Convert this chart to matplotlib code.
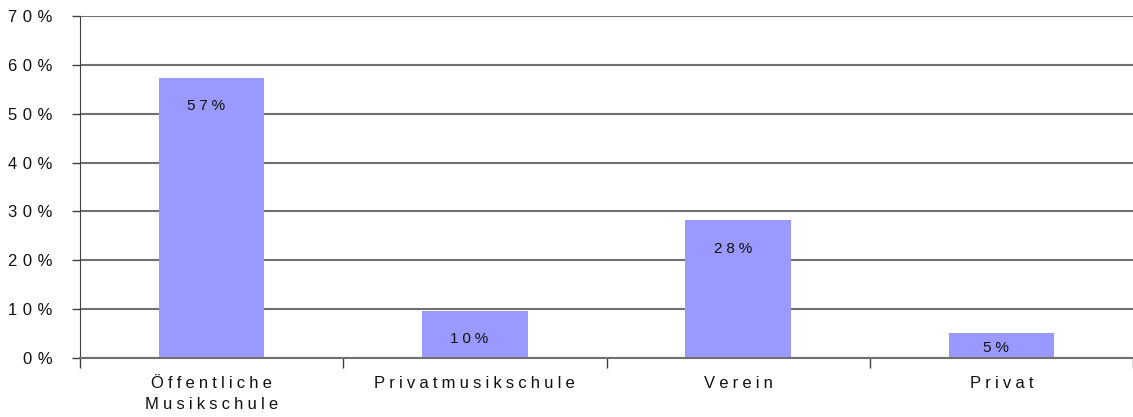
import matplotlib
matplotlib.use("Agg")
import matplotlib.pyplot as plt
import numpy as np

# data
categories = ["Öffentliche\nMusikschule", "Privatmusikschule", "Verein", "Privat"]
values = [57.3, 9.6, 28.2, 5.2]
value_labels = ["57%", "10%", "28%", "5%"]
y_ticks = [0, 10, 20, 30, 40, 50, 60, 70]

BAR_COLOR = "#9999FF"
GRID_COLOR = "#707070"
FS = 12
FS_Y = 12
FS_BAR = 11


def spaced(text: str, sep: str = "\u2005") -> str:
    # mimic the wide letter spacing of the original chart
    return "\n".join(sep.join(line) for line in text.split("\n"))


plt.rcParams["font.family"] = ["Liberation Sans", "DejaVu Sans"]

fig = plt.figure(figsize=(11.33, 4.17), dpi=100)
ax = fig.add_axes([80 / 1133, 1 - 358 / 417, 1 - 80 / 1133, (358 - 16) / 417])

x = np.arange(len(categories))
ax.bar(x, values, width=0.4, color=BAR_COLOR, zorder=3)

for xi, v, lab in zip(x, values, value_labels):
    ax.text(xi - 0.02, max(v - 5.8, v * 0.4), spaced(lab), ha="center", va="center",
            fontsize=FS_BAR, color="#111111", zorder=4)

ax.set_xlim(-0.5, len(categories) - 0.5)
ax.set_ylim(0, 70)

ax.set_yticks(y_ticks)
ax.set_yticklabels([spaced(f"{t}%", "\u2004") for t in y_ticks], fontsize=FS_Y,
                   color="#111111")
ax.yaxis.grid(True, color=GRID_COLOR, linewidth=1.5, zorder=0)
ax.tick_params(axis="y", length=6, width=1, color="#404040", pad=14)

# category names centered under bars, ticks at the category boundaries
ax.set_xticks(np.arange(len(categories) + 1) - 0.5)
ax.set_xticklabels([])
ax.set_xticks(x, minor=True)
ax.set_xticklabels([spaced(c) for c in categories], minor=True, fontsize=FS,
                   linespacing=1.5, color="#111111")
ax.tick_params(axis="x", which="major", length=7, width=1, color="#404040")
ax.tick_params(axis="x", which="minor", length=0, pad=13)

for side in ["top", "right"]:
    ax.spines[side].set_visible(False)
ax.spines["left"].set_color("#404040")
ax.spines["bottom"].set_color(GRID_COLOR)
ax.spines["bottom"].set_linewidth(1.5)
ax.spines["bottom"].set_zorder(5)

fig.savefig("out.png", dpi=100)
